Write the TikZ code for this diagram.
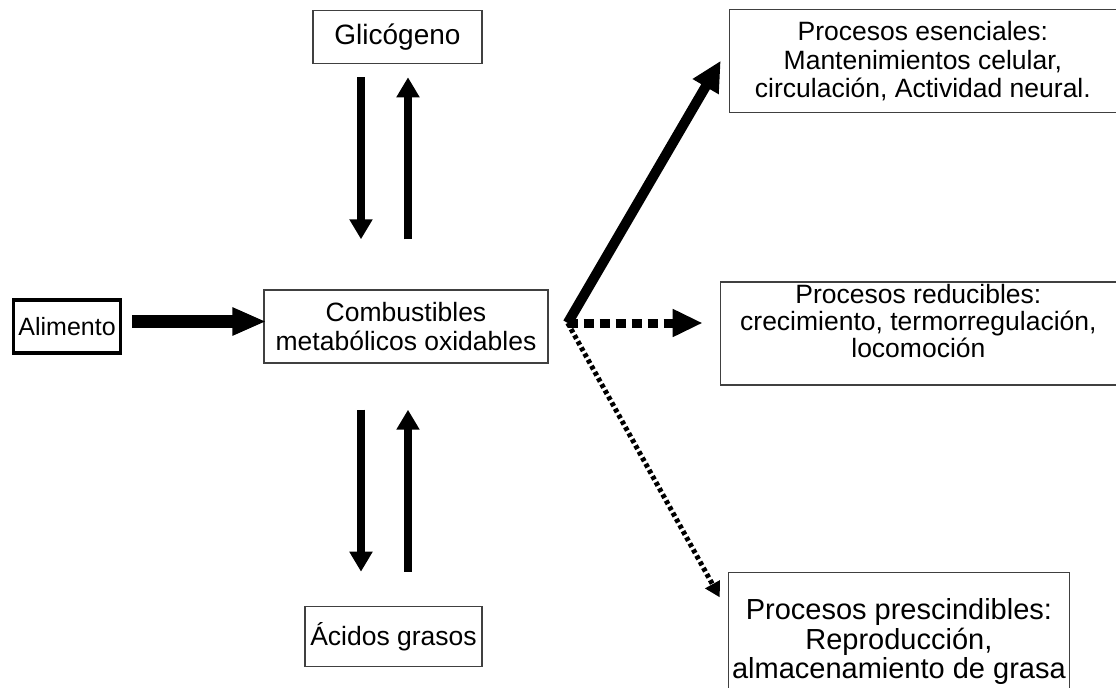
\documentclass[tikz,border=0pt]{standalone}
\usepackage{fontspec}
\setmainfont{Liberation Sans}
\usetikzlibrary{positioning,arrows.meta}

\begin{document}
\begin{tikzpicture}[
    node distance = 10pt and 10pt,
    box/.style      = {draw=black!75, line width=0.7pt, inner sep=1pt, align=center,
                       font=\fontsize{13.25}{14.25}\selectfont},
    food/.style     = {draw, line width=1.75pt, inner sep=0pt, minimum width=53.5pt,
                       minimum height=26.5pt, font=\fontsize{12.5}{14}\selectfont},
    arrfood/.style  = {-{Triangle[length=17pt,width=13pt]}, line width=6.5pt},
    arrvert/.style  = {-{Triangle[length=10pt,width=11pt]}, line width=4pt},
    arrsolid/.style = {-{Triangle[length=15pt,width=14pt]}, line width=5pt},
    arrdash/.style  = {-{Triangle[length=15pt,width=13pt]}, line width=4.5pt,
                       dash pattern=on 5pt off 3pt},
    arrdot/.style   = {-{Triangle[length=7.5pt,width=8pt]}, line width=2.5pt,
                       dash pattern=on 2pt off 1.5pt},
]
\useasboundingbox (-203pt,163.25pt) rectangle (355pt,-180.25pt);

% --- central node ---
\node[box, minimum width=142pt, minimum height=36.5pt] (comb) at (0,0)
    {Combustibles\\metabólicos oxidables};

% --- input ---
\node[food, left=70.5pt of comb] (alim) {Alimento};

% --- stores ---
\node[box, minimum width=84.5pt, minimum height=26.5pt, font=\fontsize{14}{15}\selectfont,
      above=112.5pt of comb, xshift=-4.25pt] (glic) {Glicógeno};
\node[box, minimum width=88.5pt, minimum height=30pt,
      below=121pt of comb, xshift=-6.25pt] (acid) {Ácidos grasos};

% --- processes ---
\node[box, minimum width=193.5pt, minimum height=51.5pt,
      above right=88pt and 90pt of comb.north east] (esen)
    {Procesos esenciales:\\Mantenimientos celular,\\circulación, Actividad neural.};
\node[box, minimum width=198pt, minimum height=51.5pt, inner ysep=0pt, text depth=13pt,
      font=\fontsize{13.25}{13.5}\selectfont,
      right=85.5pt of comb.east, yshift=-3.5pt] (reduc)
    {Procesos reducibles:\\crecimiento, termorregulación,\\locomoción};
\node[box, minimum width=170.5pt, minimum height=69pt, inner xsep=0pt,
      font=\fontsize{14.5}{13.5}\selectfont,
      below right=104pt and 89.5pt of comb.south east] (presc)
    {Procesos prescindibles:\\Reproducción,\\almacenamiento de grasa};

\coordinate[right=9.5pt of comb.east, yshift=1.75pt] (fork);

% --- arrows ---
\draw[arrfood, shorten <=5pt, shorten >=-1.5pt]
    ([yshift=2.5pt]alim.east) -- ([yshift=2.5pt]alim.east -| comb.west);

\draw[arrvert, shorten <=6.5pt, shorten >=25pt]
    ([xshift=-18.25pt]glic.south) -- ([xshift=-18.25pt]glic.south |- comb.north);
\draw[arrvert, shorten <=25pt, shorten >=6.5pt]
    ([xshift=5.25pt]glic.south |- comb.north) -- ([xshift=5.25pt]glic.south);
\draw[arrvert, shorten <=23pt, shorten >=17pt]
    ([xshift=-18.25pt]glic.south |- comb.south) -- ([xshift=-18.25pt]glic.south |- acid.north);
\draw[arrvert, shorten <=17pt, shorten >=23pt]
    ([xshift=5.25pt]glic.south |- acid.north) -- ([xshift=5.25pt]glic.south |- comb.south);

\draw[arrsolid, shorten >=7.9pt] (fork) -- ([yshift=7pt]esen.west);
\draw[arrdash, shorten >=8.5pt] (fork) -- (fork -| reduc.west);
\draw[arrdot, shorten >=8.2pt] (fork) -- ([yshift=-20pt]presc.north west);

\end{tikzpicture}
\end{document}
